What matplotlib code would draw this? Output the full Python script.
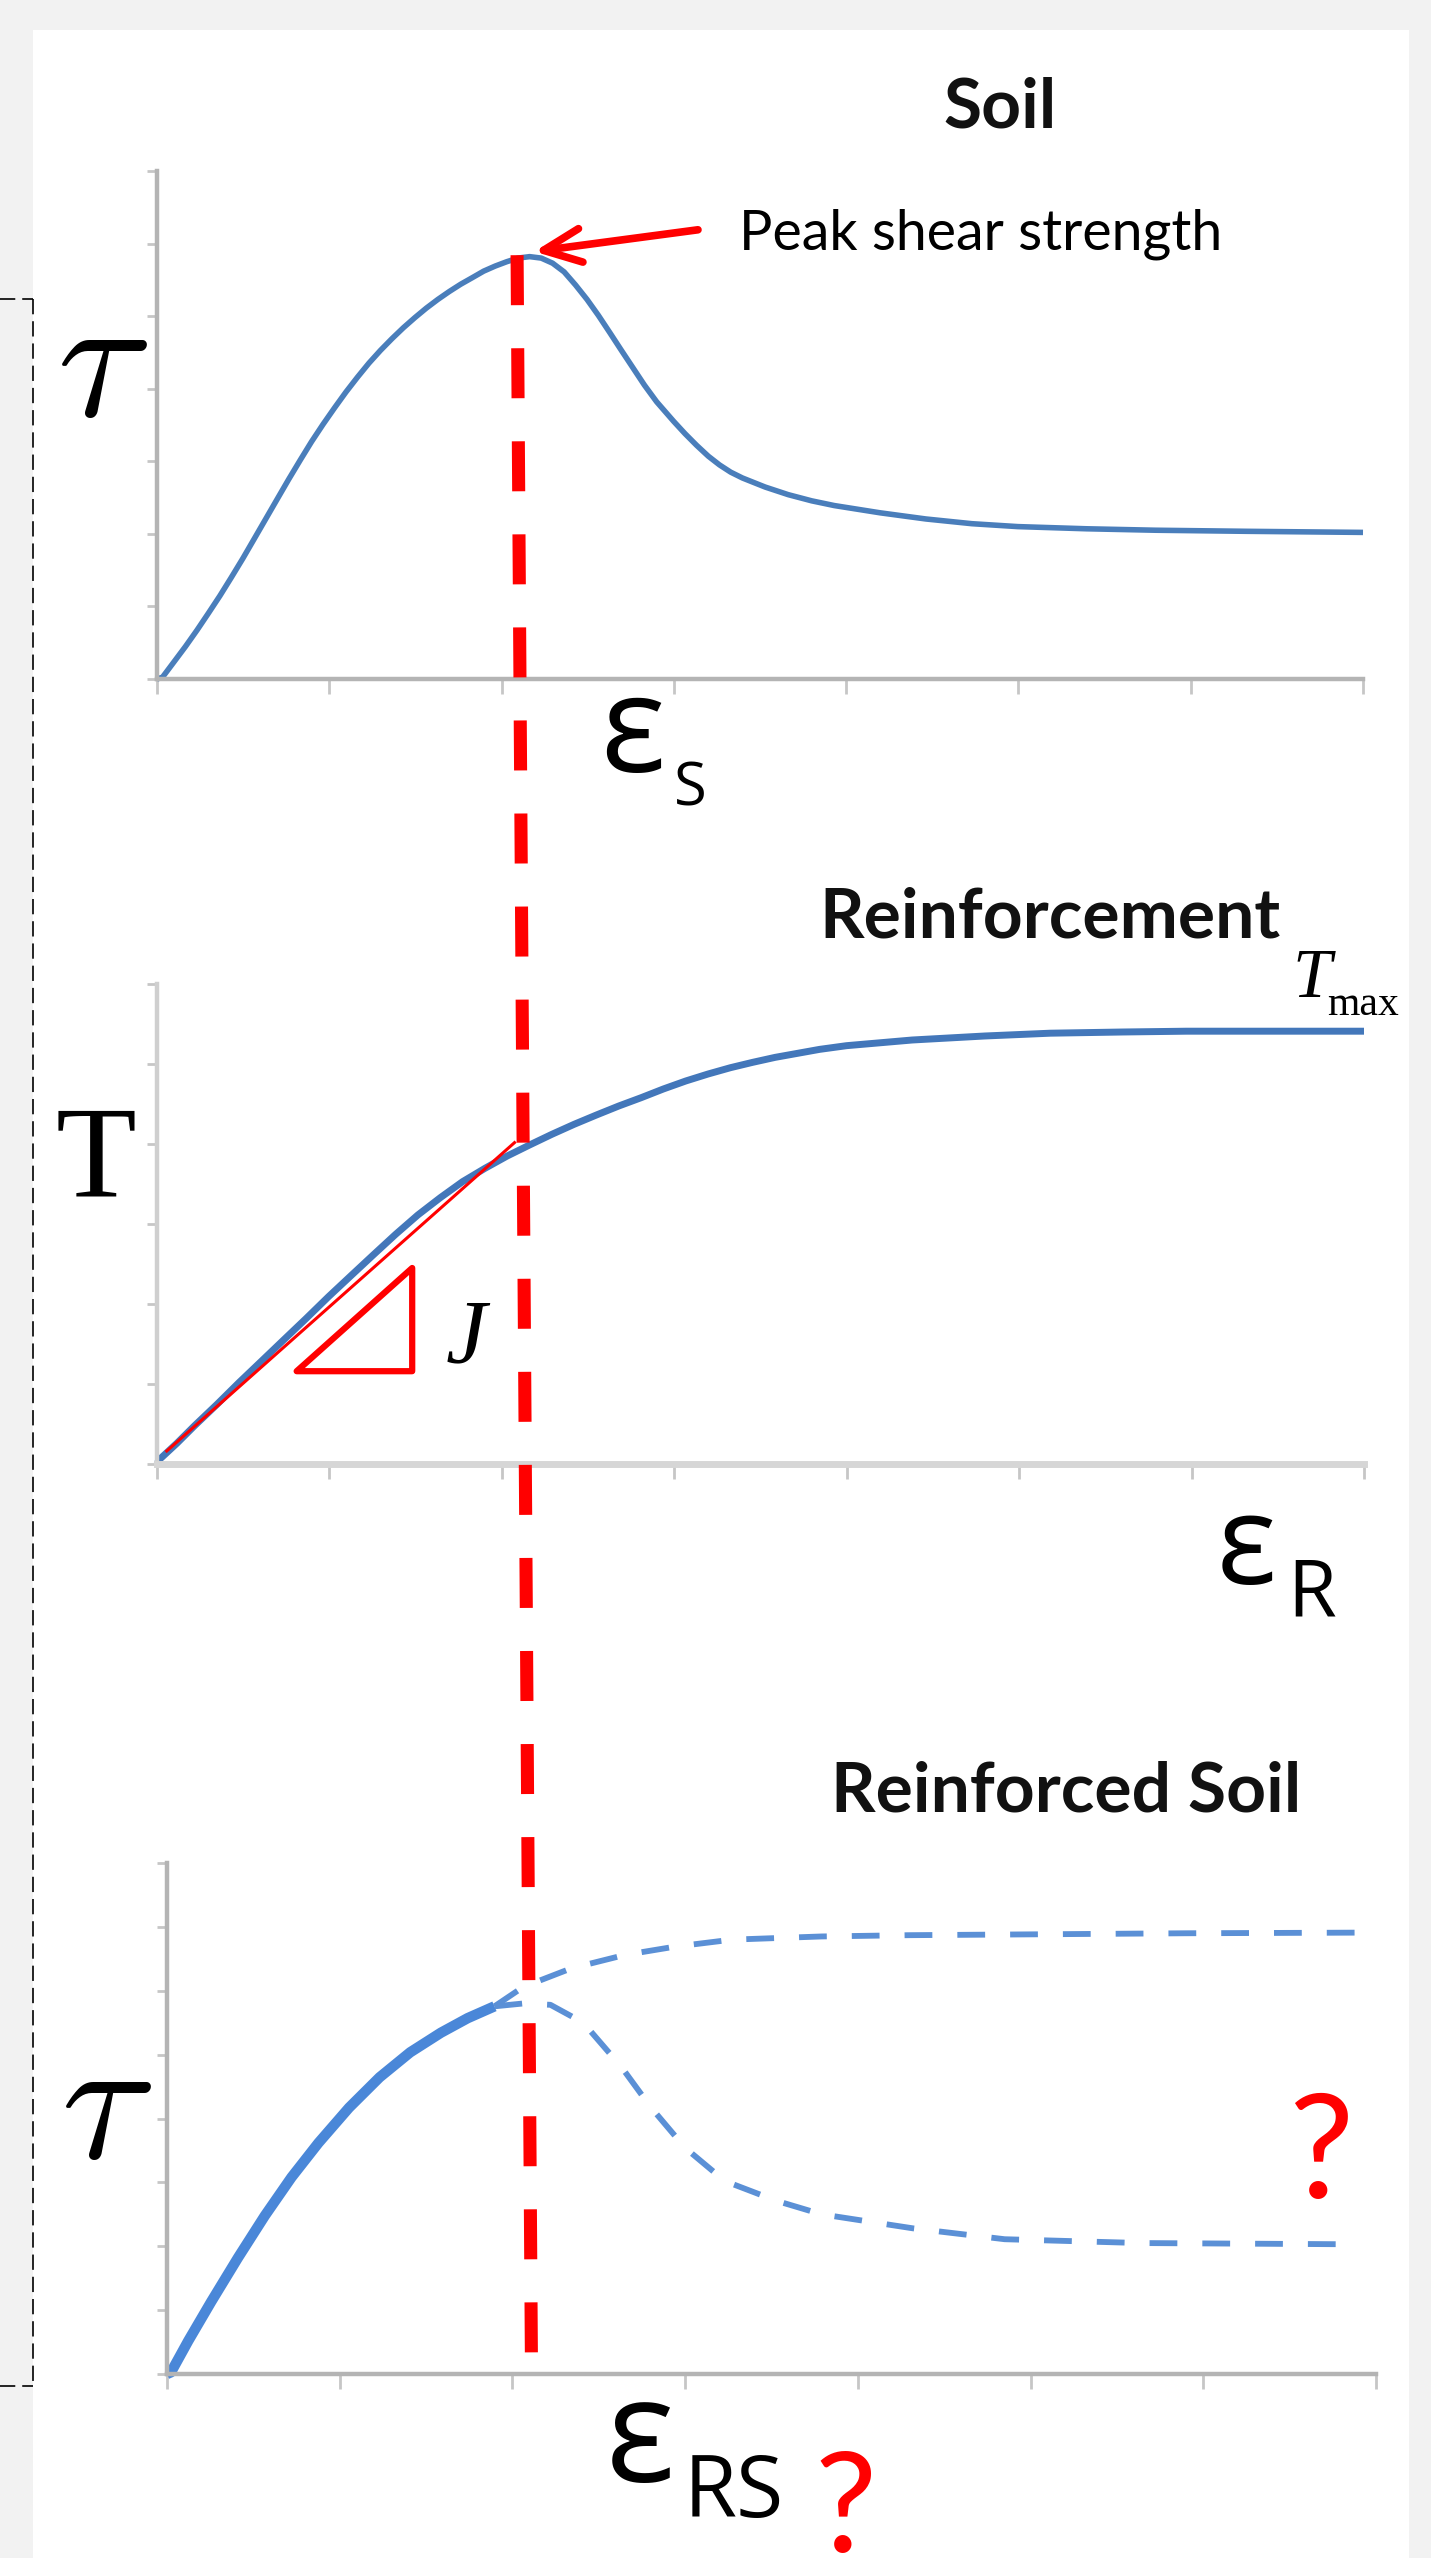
import matplotlib
matplotlib.use("Agg")
import matplotlib.pyplot as plt
from matplotlib.lines import Line2D
from matplotlib.patches import Rectangle, ConnectionPatch, Polygon

plt.rcParams['lines.scale_dashes'] = False
plt.rcParams['mathtext.fontset'] = 'cm'

# ---------------- data ----------------
strain_ticks = [0, 1, 2, 3, 4, 5, 6, 7]

# Soil: shear stress vs soil strain
soil_strain = [0, 0.032, 0.098, 0.165, 0.232, 0.298, 0.365, 0.431, 0.498, 0.564,
               0.631, 0.698, 0.764, 0.831, 0.897, 0.964, 1.031, 1.097, 1.164, 1.230,
               1.297, 1.364, 1.430, 1.497, 1.563, 1.630, 1.697, 1.763, 1.830, 1.896,
               1.963, 2.030, 2.096, 2.163, 2.230, 2.296, 2.363, 2.429, 2.496, 2.562,
               2.629, 2.695, 2.762, 2.829, 2.900, 2.999, 3.065, 3.132, 3.200, 3.265,
               3.330, 3.398, 3.530, 3.664, 3.800, 3.931, 4.197, 4.463, 4.730, 4.996,
               5.395, 5.795, 6.328, 7.000]
soil_stress = [0, 0.025, 0.234, 0.447, 0.672, 0.905, 1.146, 1.398, 1.660, 1.930,
               2.205, 2.480, 2.750, 3.015, 3.270, 3.510, 3.738, 3.955, 4.160, 4.352,
               4.528, 4.690, 4.840, 4.980, 5.110, 5.230, 5.340, 5.440, 5.530, 5.620,
               5.690, 5.750, 5.800, 5.820, 5.800, 5.730, 5.610, 5.430, 5.230, 5.010,
               4.770, 4.530, 4.290, 4.050, 3.820, 3.550, 3.380, 3.220, 3.070, 2.950,
               2.850, 2.770, 2.645, 2.540, 2.455, 2.390, 2.290, 2.205, 2.140, 2.100,
               2.070, 2.050, 2.035, 2.020]

# Reinforcement: tensile force vs reinforcement strain
reinf_strain = [0, 0.011, 0.115, 0.218, 0.348, 0.477, 0.607, 0.736, 0.866, 0.995,
                1.125, 1.254, 1.384, 1.513, 1.643, 1.772, 1.902, 2.031, 2.161, 2.290,
                2.419, 2.549, 2.678, 2.808, 2.937, 3.067, 3.196, 3.326, 3.455, 3.585,
                3.714, 3.843, 3.999, 4.380, 4.800, 5.180, 5.600, 5.970, 6.500, 7.000]
reinf_force = [0, 0.050, 0.258, 0.479, 0.746, 1.021, 1.288, 1.554, 1.821, 2.092,
               2.354, 2.613, 2.871, 3.113, 3.329, 3.529, 3.696, 3.850, 3.988, 4.121,
               4.246, 4.363, 4.475, 4.579, 4.688, 4.788, 4.875, 4.954, 5.021, 5.083,
               5.133, 5.183, 5.229, 5.300, 5.350, 5.385, 5.400, 5.410, 5.410, 5.410]
tangent_strain = [0.05, 2.08]
tangent_force = [0.15, 4.03]
slope_tri_strain = [0.81, 1.48, 1.48]
slope_tri_force = [1.16, 2.45, 1.16]

# Reinforced soil: known part and two possible continuations
rs_strain = [0, 0.023, 0.123, 0.256, 0.411, 0.566, 0.721, 0.877, 1.054, 1.231,
             1.408, 1.586, 1.741, 1.896]
rs_stress = [0, 0.027, 0.518, 1.132, 1.820, 2.476, 3.080, 3.618, 4.169, 4.645,
             5.036, 5.343, 5.571, 5.756]
rs_hard_strain = [1.896, 2.03, 2.12, 2.34, 2.65, 2.94, 3.27, 3.79, 4.30, 4.85, 5.90, 6.91]
rs_hard_stress = [5.756, 6.00, 6.12, 6.35, 6.56, 6.69, 6.80, 6.85, 6.87, 6.88, 6.90, 6.91]
rs_soft_strain = [1.896, 2.06, 2.22, 2.41, 2.63, 2.80, 3.00, 3.23, 3.53, 3.79, 4.32,
                  4.85, 5.64, 6.91]
rs_soft_stress = [5.756, 5.80, 5.78, 5.50, 4.81, 4.18, 3.54, 3.02, 2.71, 2.50, 2.28,
                  2.11, 2.05, 2.03]

peak_strain, peak_stress = 2.09, 5.84
peak_end_strain, peak_end_stress = 2.11, 0.19
arrow_head = (2.19, 5.89)
arrow_tail = (3.14, 6.19)

# ---------------- layout ----------------
W, H = 1431, 2558
fig = plt.figure(figsize=(W / 100, H / 100), dpi=100, facecolor='#f2f2f2')


def fx(x):
    return x / W


def fy(y):
    return 1 - y / H


# white panel
fig.add_artist(Rectangle((fx(33), 0), fx(1409) - fx(33), fy(30),
                         transform=fig.transFigure, facecolor='white',
                         edgecolor='none', zorder=-2))
# thin black dashed bracket on the left
for xs, ys in [([fx(33), fx(33)], [fy(299), fy(2386)]),
               ([0, fx(33)], [fy(299), fy(299)]),
               ([0, fx(33)], [fy(2386), fy(2386)])]:
    fig.add_artist(Line2D(xs, ys, transform=fig.transFigure, color='black',
                          lw=1.2, dashes=(11, 5), zorder=-1))

ax1 = fig.add_axes([fx(157), fy(679), (1363 - 157) / W, (679 - 171) / H])
ax2 = fig.add_axes([fx(157), fy(1464), (1364 - 157) / W, (1464 - 984) / H])
ax3 = fig.add_axes([fx(167), fy(2374), (1376 - 167) / W, (2374 - 1863) / H])


def style(ax, ymax, left_c, left_w, bot_c, bot_w):
    ax.set_xlim(0, 7)
    ax.set_ylim(0, ymax)
    ax.set_xticks(strain_ticks)
    ax.set_yticks(list(range(ymax + 1)))
    ax.set_xticklabels([])
    ax.set_yticklabels([])
    ax.spines['top'].set_visible(False)
    ax.spines['right'].set_visible(False)
    ax.spines['left'].set_color(left_c)
    ax.spines['left'].set_linewidth(left_w)
    ax.spines['bottom'].set_color(bot_c)
    ax.spines['bottom'].set_linewidth(bot_w)
    ax.tick_params(axis='x', direction='out', length=11, width=2, color='#c6c6c6')
    ax.tick_params(axis='y', direction='out', length=7, width=2, color='#c6c6c6')
    ax.patch.set_alpha(0)


style(ax1, 7, '#b4b4b4', 3.2, '#b4b4b4', 3.2)
style(ax2, 6, '#cfcfcf', 3.2, '#d6d6d6', 5.0)
style(ax3, 8, '#b4b4b4', 3.2, '#b4b4b4', 3.2)

# curves
ax1.plot(soil_strain, soil_stress, color='#4a7ebb', lw=4.0, clip_on=False,
         solid_capstyle='butt', solid_joinstyle='round')
ax2.plot(reinf_strain, reinf_force, color='#4377ba', lw=5.0, clip_on=False,
         solid_capstyle='butt', solid_joinstyle='round')
ax2.plot(tangent_strain, tangent_force, color='red', lw=2.2, clip_on=False,
         solid_capstyle='butt', zorder=3)
ax2.add_patch(Polygon(list(zip(slope_tri_strain, slope_tri_force)), closed=True,
                      fill=False, edgecolor='red', lw=4.5, joinstyle='round'))
ax3.plot(rs_strain, rs_stress, color='#4a87d8', lw=7.5, clip_on=False,
         solid_capstyle='butt', solid_joinstyle='round')
ax3.plot(rs_hard_strain, rs_hard_stress, color='#5b90d6', lw=4.2, clip_on=False,
         dashes=(20, 18), dash_capstyle='butt')
ax3.plot(rs_soft_strain, rs_soft_stress, color='#5b90d6', lw=4.2, clip_on=False,
         dashes=(20, 18), dash_capstyle='butt')

# arrow to peak
ax1.annotate('', xy=arrow_head, xytext=arrow_tail,
             arrowprops=dict(arrowstyle='->,head_length=1.0,head_width=0.45',
                             color='red', lw=5.5, mutation_scale=27,
                             shrinkA=0, shrinkB=0), annotation_clip=False)

# red dashed vertical line through the three panels
con = ConnectionPatch(xyA=(peak_strain, peak_stress), coordsA=ax1.transData,
                      xyB=(peak_end_strain, peak_end_stress), coordsB=ax3.transData,
                      color='red', lw=9.4, linestyle=(0, (36, 31)),
                      capstyle='butt', zorder=10)
fig.add_artist(con)

# ---------------- texts ----------------
title_kw = dict(fontsize=50, fontweight='bold', family='Lato', color='#111111',
                ha='center', va='baseline')
fig.text(fx(1000), fy(127), 'Soil', **title_kw)
fig.text(fx(1050), fy(937), 'Reinforcement', **title_kw)
fig.text(fx(1066), fy(1812), 'Reinforced Soil', **title_kw)

fig.text(fx(739), fy(249), 'Peak shear strength', fontsize=40, family='Lato',
         color='black', ha='left', va='baseline')

# y-axis symbols
fig.text(fx(102), fy(368), r'$\tau$', fontsize=125, ha='center', va='center')
fig.text(fx(96), fy(1197), 'T', fontsize=95, family='Liberation Serif',
         ha='center', va='baseline')
fig.text(fx(106), fy(2110), r'$\tau$', fontsize=125, ha='center', va='center')

# x-axis symbols
eps_kw = dict(family='Open Sans', color='black', ha='left', va='baseline')
fig.text(fx(600), fy(772), 'ε', fontsize=98, **eps_kw)
fig.text(fx(674), fy(805), 'S', fontsize=43, **eps_kw)
fig.text(fx(1217), fy(1584), 'ε', fontsize=90, **eps_kw)
fig.text(fx(1287), fy(1617), 'R', fontsize=57, **eps_kw)
fig.text(fx(606), fy(2482), 'ε', fontsize=104, **eps_kw)
fig.text(fx(684), fy(2517), 'RS', fontsize=62, **eps_kw)

# T_max and J
fig.text(fx(1292), fy(997), 'T', fontsize=50, family='Liberation Serif',
         style='italic', ha='left', va='baseline')
fig.text(fx(1327), fy(1015), 'max', fontsize=30, family='Liberation Serif',
         ha='left', va='baseline')
fig.text(fx(466), fy(1362), 'J', fontsize=66, family='Liberation Serif',
         style='italic', ha='center', va='baseline')

# question marks
fig.text(fx(1321), fy(2198), '?', fontsize=105, family='Lato', color='red',
         ha='center', va='baseline')
fig.text(fx(845), fy(2552), '?', fontsize=100, family='Lato', color='red',
         ha='center', va='baseline')

fig.savefig('out.png', dpi=100, facecolor=fig.get_facecolor())
